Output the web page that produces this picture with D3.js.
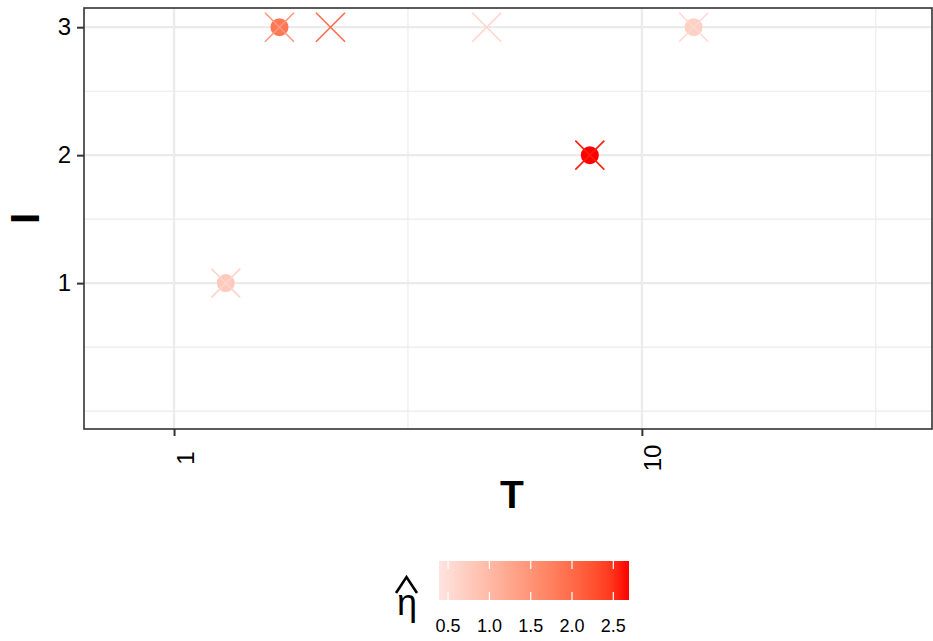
<!DOCTYPE html>
<html lang="en">
  <head>
    <meta charset="utf-8">
    <title>T vs I</title>
    <script type="text/javascript" src="https://cdn.jsdelivr.net/npm/d3@7"></script>
    <style>
    body { margin: 0; background: #ffffff; }
    #chart { width: 933px; height: 641px; }
    text { font-family: "Liberation Sans", Arial, sans-serif; }
    </style>
  </head>
  <body>
    <div id="chart"></div>
    <script type="text/javascript">

      // data
      var circleT   = [1.29, 1.68, 7.74, 12.9];
      var circleI   = [1, 3, 2, 3];
      var circleEta = [0.78, 1.85, 2.69, 0.68];

      var crossT   = [1.29, 1.68, 2.16, 4.66, 7.74, 12.9];
      var crossI   = [1, 3, 3, 3, 2, 3];
      var crossEta = [0.62, 1.45, 2.0, 0.6, 2.62, 0.55];

      var xTicks = [1, 10];
      var xMinor = [Math.sqrt(10), Math.sqrt(1000)];
      var yTicks = [1, 2, 3];
      var yMinor = [0, 0.5, 1.5, 2.5];
      var legendTicks = [0.5, 1.0, 1.5, 2.0, 2.5];
      var etaRange = [0.39, 2.69];

      var panel = { left: 84, right: 932, top: 8, bottom: 429 };

      var svg = d3.select('#chart')
        .append('svg')
          .attr('width', 933)
          .attr('height', 641);

      var xScale = d3.scaleLog()
        .domain([0.642, 41.7])
        .range([panel.left, panel.right]);

      var yScale = d3.scaleLinear()
        .domain([-0.14, 3.15])
        .range([panel.bottom, panel.top]);

      var color = d3.scaleLinear()
        .domain(etaRange)
        .range(['#ffe4e1', '#ff0000'])
        .interpolate(d3.interpolateLab);

      // grid
      var grid = svg.append('g');
      grid.selectAll('.ymin').data(yMinor).enter().append('line')
        .attr('x1', panel.left).attr('x2', panel.right)
        .attr('y1', d => yScale(d)).attr('y2', d => yScale(d))
        .attr('stroke', '#ebebeb').attr('stroke-width', 1.1);
      grid.selectAll('.xmin').data(xMinor).enter().append('line')
        .attr('y1', panel.top).attr('y2', panel.bottom)
        .attr('x1', d => xScale(d)).attr('x2', d => xScale(d))
        .attr('stroke', '#ebebeb').attr('stroke-width', 1.1);
      grid.selectAll('.ymaj').data(yTicks).enter().append('line')
        .attr('x1', panel.left).attr('x2', panel.right)
        .attr('y1', d => yScale(d)).attr('y2', d => yScale(d))
        .attr('stroke', '#ebebeb').attr('stroke-width', 2.2);
      grid.selectAll('.xmaj').data(xTicks).enter().append('line')
        .attr('y1', panel.top).attr('y2', panel.bottom)
        .attr('x1', d => xScale(d)).attr('x2', d => xScale(d))
        .attr('stroke', '#ebebeb').attr('stroke-width', 2.2);

      // points: circles then crosses on top
      var circles = circleT.map((t, i) => ({ t: t, I: circleI[i], eta: circleEta[i] }));
      var crosses = crossT.map((t, i) => ({ t: t, I: crossI[i], eta: crossEta[i] }));

      svg.append('g').selectAll('circle')
        .data(circles).enter().append('circle')
          .attr('cx', d => xScale(d.t))
          .attr('cy', d => yScale(d.I))
          .attr('r', 9)
          .attr('fill', d => color(d.eta));

      var s = 14.5;
      svg.append('g').selectAll('path')
        .data(crosses).enter().append('path')
          .attr('transform', d => 'translate(' + xScale(d.t) + ',' + yScale(d.I) + ')')
          .attr('d', 'M' + (-s) + ',' + (-s) + 'L' + s + ',' + s + 'M' + (-s) + ',' + s + 'L' + s + ',' + (-s))
          .attr('stroke', d => color(d.eta))
          .attr('stroke-width', 1.6)
          .attr('fill', 'none');

      // panel border
      svg.append('rect')
        .attr('x', panel.left).attr('y', panel.top)
        .attr('width', panel.right - panel.left)
        .attr('height', panel.bottom - panel.top)
        .attr('fill', 'none').attr('stroke', '#333333').attr('stroke-width', 1.6);

      // axes
      var xAxis = d3.axisBottom(xScale)
        .tickValues(xTicks)
        .tickFormat(d3.format('d'))
        .tickSize(7)
        .tickSizeOuter(0);
      var gx = svg.append('g')
        .attr('transform', 'translate(0,' + panel.bottom + ')')
        .call(xAxis);
      gx.select('.domain').remove();
      gx.selectAll('.tick line').attr('stroke', '#333333').attr('stroke-width', 2);
      gx.selectAll('.tick text')
        .attr('font-size', 24)
        .attr('fill', '#000')
        .attr('text-anchor', 'middle')
        .attr('x', -29)
        .attr('y', 19)
        .attr('dy', 0)
        .attr('transform', 'rotate(-90)');

      var yAxis = d3.axisLeft(yScale)
        .tickValues(yTicks)
        .tickFormat(d3.format('d'))
        .tickSize(7)
        .tickSizeOuter(0);
      var gy = svg.append('g')
        .attr('transform', 'translate(' + panel.left + ',0)')
        .call(yAxis);
      gy.select('.domain').remove();
      gy.selectAll('.tick line').attr('stroke', '#333333').attr('stroke-width', 2);
      gy.selectAll('.tick text')
        .attr('font-size', 24)
        .attr('fill', '#000')
        .attr('x', -13);

      // axis titles
      svg.append('text')
        .attr('x', 512)
        .attr('y', 508)
        .attr('text-anchor', 'middle')
        .attr('font-size', 39)
        .attr('font-weight', 'bold')
        .text('T');

      svg.append('text')
        .attr('transform', 'translate(39,' + ((panel.top + panel.bottom) / 2) + ') rotate(-90)')
        .attr('text-anchor', 'middle')
        .attr('font-size', 40)
        .attr('font-weight', 'bold')
        .text('I');

      // colour legend
      var legend = { x: 439, y: 561, w: 190, h: 39 };
      var lScale = d3.scaleLinear().domain(etaRange).range([legend.x, legend.x + legend.w]);

      var defs = svg.append('defs');
      var grad = defs.append('linearGradient').attr('id', 'etagrad');
      d3.range(0, 1.0001, 0.1).forEach(function(p) {
        grad.append('stop')
          .attr('offset', p)
          .attr('stop-color', color(etaRange[0] + p * (etaRange[1] - etaRange[0])));
      });
      svg.append('rect')
        .attr('x', legend.x).attr('y', legend.y)
        .attr('width', legend.w).attr('height', legend.h)
        .attr('fill', 'url(#etagrad)');

      var lt = svg.append('g');
      lt.selectAll('.lt1').data(legendTicks).enter().append('line')
        .attr('x1', d => lScale(d)).attr('x2', d => lScale(d))
        .attr('y1', legend.y).attr('y2', legend.y + 8)
        .attr('stroke', '#fff').attr('stroke-width', 1.2);
      lt.selectAll('.lt2').data(legendTicks).enter().append('line')
        .attr('x1', d => lScale(d)).attr('x2', d => lScale(d))
        .attr('y1', legend.y + legend.h - 8).attr('y2', legend.y + legend.h)
        .attr('stroke', '#fff').attr('stroke-width', 1.2);
      lt.selectAll('text').data(legendTicks).enter().append('text')
        .attr('x', d => lScale(d))
        .attr('y', 632)
        .attr('text-anchor', 'middle')
        .attr('font-size', 18)
        .attr('fill', '#000')
        .text(d3.format('.1f'));

      // eta hat title
      svg.append('text')
        .attr('x', 407)
        .attr('y', 615)
        .attr('text-anchor', 'middle')
        .attr('font-size', 36)
        .text('η');
      svg.append('path')
        .attr('d', 'M396,593 L406.5,577 L417,593')
        .attr('fill', 'none')
        .attr('stroke', '#000')
        .attr('stroke-width', 2.6);

    </script>
  </body>
</html>
